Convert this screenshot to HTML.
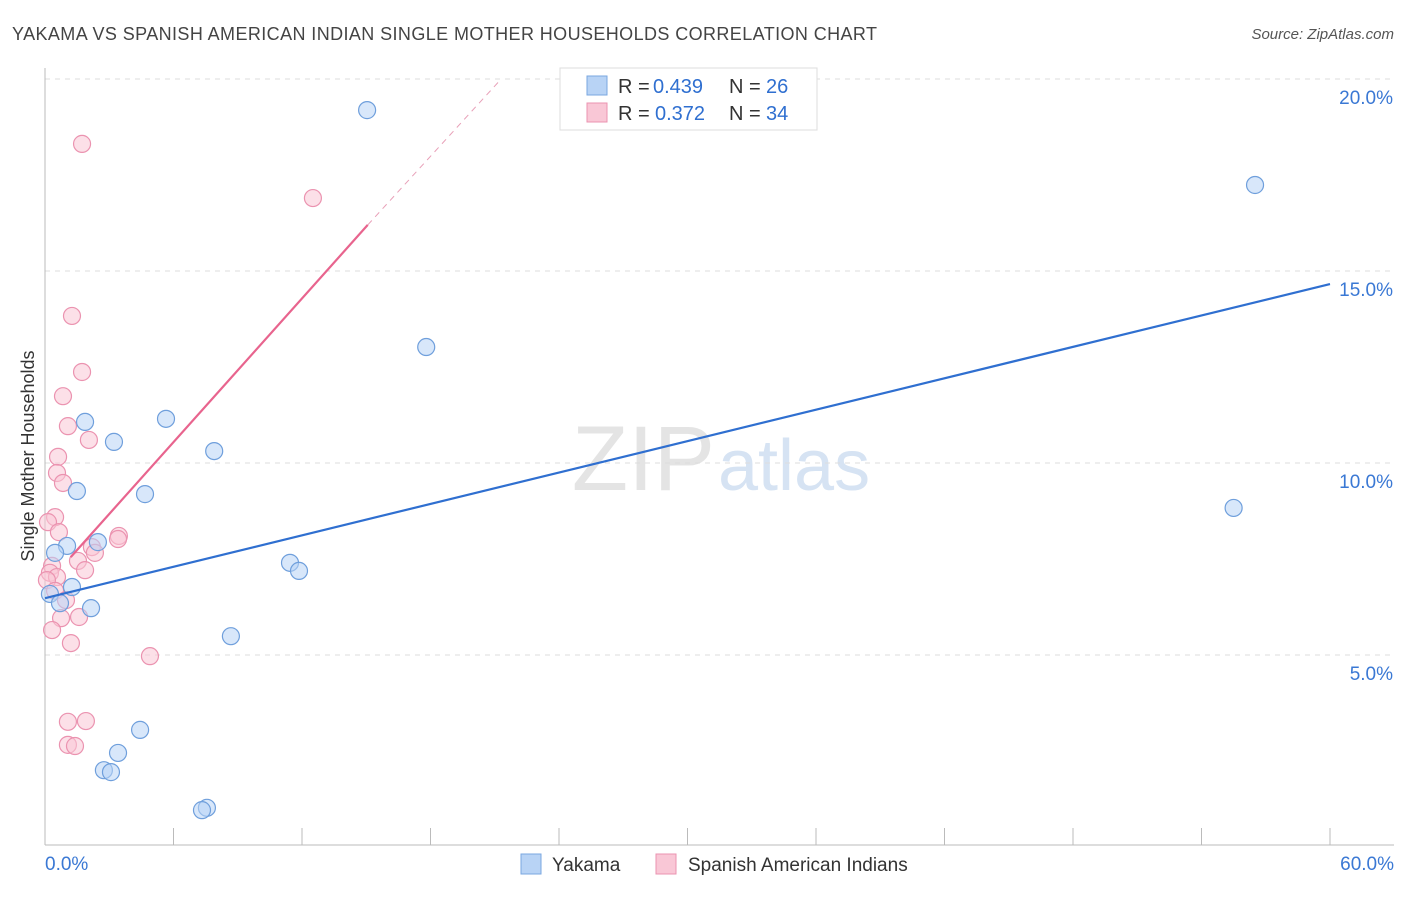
<!DOCTYPE html>
<html><head><meta charset="utf-8"><style>
body{margin:0;background:#fff;font-family:"Liberation Sans",sans-serif;}
svg text{font-family:"Liberation Sans",sans-serif;}
</style></head><body>
<svg id="chart" width="1406" height="892" viewBox="0 0 1406 892">
<text x="12" y="40" font-size="18" fill="#444" textLength="865">YAKAMA VS SPANISH AMERICAN INDIAN SINGLE MOTHER HOUSEHOLDS CORRELATION CHART</text>
<text x="1394" y="39" font-size="15" fill="#555" text-anchor="end" font-style="italic">Source: ZipAtlas.com</text>
<text x="715" y="490" font-size="92" fill="#e4e4e4" text-anchor="end" font-family="Liberation Serif">ZIP</text>
<text x="718" y="490" font-size="72" fill="#d6e3f3">atlas</text>
<g id="grid"></g><g id="axes"></g><g id="marks"></g>
<text transform="translate(34,456) rotate(-90)" font-size="18" fill="#333" text-anchor="middle">Single Mother Households</text>
<g>
<rect x="560" y="68" width="257" height="62" fill="#fff" stroke="#ddd"/>
<rect x="587" y="76" width="20" height="19" fill="#b8d3f5" stroke="#7aa7e0"/>
<rect x="587" y="103" width="20" height="19" fill="#f9c7d6" stroke="#eb93b0"/>
<text x="618" y="93" font-size="20" fill="#333">R =</text>
<text x="653" y="93" font-size="20" fill="#2f6fd0">0.439</text>
<text x="729" y="93" font-size="20" fill="#333">N =</text>
<text x="766" y="93" font-size="20" fill="#2f6fd0">26</text>
<text x="618" y="120" font-size="20" fill="#333">R =</text>
<text x="655" y="120" font-size="20" fill="#2f6fd0">0.372</text>
<text x="729" y="120" font-size="20" fill="#333">N =</text>
<text x="766" y="120" font-size="20" fill="#2f6fd0">34</text>
</g>
<g>
<rect x="521" y="854" width="20" height="20" fill="#b8d3f5" stroke="#7aa7e0"/>
<text x="552" y="871" font-size="19" fill="#333">Yakama</text>
<rect x="656" y="854" width="20" height="20" fill="#f9c7d6" stroke="#eb93b0"/>
<text x="688" y="871" font-size="19" fill="#333">Spanish American Indians</text>
</g>
</svg>
<script>
const xTicks=[0,6,12,18,24,30,36,42,48,54,60];
const yTicks=[5,10,15,20];
const yakamaX=[15.04,56.5,17.8,5.65,1.87,3.22,7.9,1.49,4.67,55.5,1.03,2.47,0.47,11.44,11.86,1.26,0.23,0.7,2.15,8.68,4.44,3.41,2.75,3.08,7.56,7.33];
const yakamaY=[19.19,17.24,13.02,11.15,11.07,10.55,10.31,9.27,9.19,8.83,7.84,7.94,7.66,7.40,7.19,6.77,6.59,6.35,6.22,5.49,3.05,2.45,2.0,1.95,1.02,0.96];
const spanX=[1.73,12.51,1.26,1.73,0.84,1.07,2.05,0.61,0.56,0.84,0.47,0.14,0.65,3.45,3.41,2.19,2.33,1.54,0.33,1.87,0.23,0.56,0.09,0.47,0.98,0.75,1.59,0.33,1.21,4.9,1.07,1.91,1.07,1.4];
const spanY=[18.31,16.9,13.83,12.37,11.74,10.96,10.6,10.16,9.74,9.48,8.59,8.46,8.2,8.1,8.02,7.81,7.66,7.45,7.32,7.21,7.14,7.03,6.95,6.67,6.43,5.96,5.99,5.65,5.31,4.97,3.26,3.28,2.66,2.63];
const blueTrend=[[0,6.48],[60,14.66]];
const pinkTrend=[[1.2,7.55],[15.07,16.2],[21.3,20.0]];
const NS="http://www.w3.org/2000/svg";
const X=v=>45+v/60*1285, Y=v=>847-v*38.4;
function mk(t,a,p){const e=document.createElementNS(NS,t);for(const k in a)e.setAttribute(k,a[k]);p.appendChild(e);return e;}
const grid=document.getElementById('grid'),axes=document.getElementById('axes'),marks=document.getElementById('marks');
yTicks.forEach(t=>{
 const l=mk('line',{x1:45,x2:1394,y1:Y(t),y2:Y(t),stroke:'#ddd','stroke-dasharray':'5,5'},grid);
 
 
 const tx=mk('text',{x:1393,y:Y(t)+25,'font-size':19,fill:'#3a78d4','text-anchor':'end'},axes);tx.textContent=t.toFixed(1)+'%';
 
 
});
mk('line',{x1:45,x2:45,y1:68,y2:845,stroke:'#bbb'},axes);
mk('line',{x1:45,x2:1394,y1:845,y2:845,stroke:'#bbb'},axes);
xTicks.forEach(t=>{
 const l=mk('line',{x1:X(t),x2:X(t),y1:828,y2:845,stroke:'#bbb'},axes);
 
 
});
[[0,'start'],[60,'end']].forEach(([t,a])=>{
 const tx=mk('text',{x:t?1394:45,y:870,'font-size':19,fill:'#3a78d4','text-anchor':a},axes);tx.textContent=t.toFixed(1)+'%';
 
 
});
function pts(xs,ys,fill,stroke,name){xs.forEach((x,i)=>{
 const c=mk('circle',{cx:X(x),cy:Y(ys[i]),r:8.5,fill:fill,'fill-opacity':0.55,stroke:stroke,'stroke-width':1.2},marks);
 
 
});}
pts(spanX,spanY,'#f9c7d6','#eb93b0','spanish-american-point');
pts(yakamaX,yakamaY,'#b8d3f5','#6f9fdc','yakama-point');
const bl=mk('line',{x1:X(blueTrend[0][0]),y1:Y(blueTrend[0][1]),x2:X(blueTrend[1][0]),y2:Y(blueTrend[1][1]),stroke:'#2f6fd0','stroke-width':2.2},marks);


const pl=mk('line',{x1:X(pinkTrend[0][0]),y1:Y(pinkTrend[0][1]),x2:X(pinkTrend[1][0]),y2:Y(pinkTrend[1][1]),stroke:'#e8648e','stroke-width':2.2},marks);


const pd=mk('line',{x1:X(pinkTrend[1][0]),y1:Y(pinkTrend[1][1]),x2:X(pinkTrend[2][0]),y2:Y(pinkTrend[2][1]),stroke:'#e8a0b8','stroke-width':1,'stroke-dasharray':'6,5'},marks);


</script>
</body></html>
